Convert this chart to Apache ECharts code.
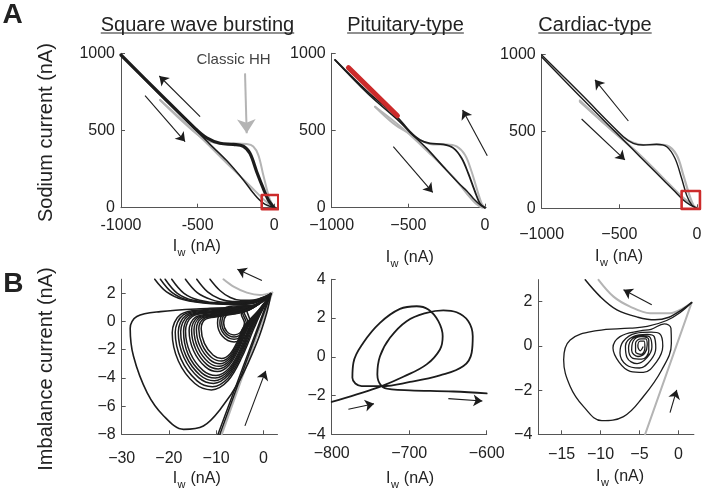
<!DOCTYPE html>
<html><head><meta charset="utf-8">
<script src="https://cdn.jsdelivr.net/npm/echarts@6/dist/echarts.min.js"></script>
<style>html,body{margin:0;padding:0;background:#fff}#c{width:705px;height:491px}</style>
</head><body><div id="c"></div><script>
// ---------- tick labels ----------
const aXTicks = [-1000, -500, 0];
const aYTicks = [0, 500, 1000];
const b1XTicks = [-30, -20, -10, 0];
const b1YTicks = [-8, -6, -4, -2, 0, 2];
const b2XTicks = [-800, -700, -600];
const b2YTicks = [-4, -2, 0, 2, 4];
const b3XTicks = [-15, -10, -5, 0];
const b3YTicks = [-4, -2, 0, 2];
const columnTitles = ['Square wave bursting', 'Pituitary-type', 'Cardiac-type'];

// ---------- A1 : square wave bursting ----------
const a1Upper = [[-1000,989],[-760,752],[-517,514],[-441,452],[-354,417],[-267,410],[-202,398],[-159,352],[-115,233],[-72,125],[-39,50],[-7,6],[0,0]];
const a1Lower = [[-1000,989],[-760,745],[-517,508],[-419,410],[-311,305],[-202,180],[-137,95],[-72,30],[0,0]];
const a1GrayUpper = [[-745,698],[-600,560],[-506,478],[-450,440],[-400,423],[-332,412],[-246,415],[-180,412],[-137,397],[-104,341],[-72,212],[-50,125],[-28,50],[0,0]];
const a1GrayLower = [[-745,698],[-506,480],[-311,290],[-159,142],[-60,45],[0,0]];
const a1Box = [[-82,-9],[26,-9],[26,82],[-82,82],[-82,-9]];
const a1Arrows = [[[-484,590],[-750,853]], [[-843,726],[-582,428]]];
const a1HHArrow = [[[-191,870],[-180,482]]];

// ---------- A2 : pituitary-type ----------
const a2Upper = [[-978,957],[-760,745],[-576,590],[-489,492],[-424,438],[-359,417],[-272,410],[-206,386],[-152,320],[-109,222],[-65,104],[-33,28],[0,0]];
const a2Lower = [[-978,957],[-760,735],[-576,575],[-489,488],[-380,384],[-272,266],[-163,150],[-120,110],[-76,60],[-33,20],[0,0]];
const a2GrayUpper = [[-717,654],[-600,548],[-489,478],[-402,428],[-337,410],[-250,410],[-185,397],[-130,341],[-87,233],[-54,125],[-22,28],[0,0]];
const a2GrayLower = [[-717,654],[-532,510],[-359,350],[-206,198],[-120,93],[-54,22],[-11,0],[0,0]];
const a2Red = [[-891,907],[-571,596]];
const a2Arrows = [[[-598,395],[-341,99]], [[15,337],[-146,633]]];

// ---------- A3 : cardiac-type ----------
const a3Upper = [[-1000,996],[-740,735],[-474,465],[-410,422],[-346,411],[-260,416],[-195,400],[-142,325],[-99,195],[-67,87],[-34,22],[0,0]];
const a3Lower = [[-1000,983],[-740,713],[-474,444],[-367,335],[-260,227],[-152,119],[-88,54],[-45,22],[0,0]];
const a3GrayUpper = [[-754,700],[-600,555],[-474,460],[-410,425],[-346,411],[-260,413],[-195,407],[-131,346],[-88,216],[-56,108],[-24,22],[0,0]];
const a3GrayLower = [[-754,693],[-539,498],[-367,346],[-217,195],[-110,87],[-45,32],[0,0]];
const a3Box = [[-99,-4],[19,-4],[19,112],[-99,112],[-99,-4]];
const a3Arrows = [[[-442,567],[-657,834]], [[-743,580],[-464,314]]];

// ---------- B1 ----------
const b1Outer = [[1.6,1.95],[-2,1.1],[-11.3,0.94],[-21.8,0.7],[-26.8,0.35],[-28.2,-0.47],[-27.5,-2.47],[-24.6,-5.06],[-21.1,-6.7],[-16.9,-7.65],[-12.7,-7.41],[-9.15,-6.24],[-4.93,-4.12],[-1.41,-1.53],[0.7,0.59],[1.6,1.95]];
const b1Loop1 = [[1.6,1.95],[-3,1.05],[-12,0.85],[-17.5,0.5],[-19.3,-0.8],[-18,-2.8],[-14.5,-4.4],[-11,-4.85],[-7.5,-4.2],[-4.5,-2.5],[-2,-0.5],[0,1.0],[1.6,1.95]];
const b1Loop2 = [[1.6,1.95],[-3,1.0],[-11.73,0.8],[-16.95,0.47],[-18.66,-0.77],[-17.43,-2.67],[-14.1,-4.19],[-10.78,-4.62],[-7.45,-4.0],[-4.6,-2.39],[-2.23,-0.49],[0,0.95],[1.6,1.95]];
const b1Loop2b = [[1.6,1.95],[-3,0.98],[-11.45,0.745],[-16.4,0.43],[-18.02,-0.74],[-16.85,-2.54],[-13.7,-3.98],[-10.55,-4.39],[-7.4,-3.8],[-4.7,-2.27],[-2.45,-0.47],[-0.1,0.93],[1.6,1.95]];
const b1Loop2c = [[1.6,1.95],[-3,0.96],[-11.23,0.7],[-15.96,0.4],[-17.51,-0.72],[-16.39,-2.44],[-13.38,-3.81],[-10.37,-4.2],[-7.36,-3.64],[-4.78,-2.18],[-2.63,-0.46],[-0.2,0.91],[1.6,1.95]];
const b1Loop3 = [[1.6,1.95],[-3,0.95],[-11.01,0.66],[-15.52,0.37],[-16.9,-0.69],[-15.93,-2.33],[-13.06,-3.64],[-10.19,-4.01],[-7.32,-3.48],[-4.86,-2.09],[-2.81,-0.45],[-0.3,0.9],[1.6,1.95]];
const b1Loop4 = [[1.6,1.95],[-3,0.92],[-10.79,0.62],[-15.08,0.35],[-16.48,-0.67],[-15.47,-2.23],[-12.74,-3.48],[-10.01,-3.83],[-7.28,-3.32],[-4.94,-1.99],[-2.99,-0.43],[-0.4,0.88],[1.6,1.95]];
const b1Loop4b = [[1.6,1.95],[-3,0.9],[-10.46,0.56],[-14.42,0.3],[-15.72,-0.63],[-14.78,-2.07],[-12.26,-3.22],[-9.74,-3.55],[-7.22,-3.08],[-5.06,-1.86],[-3.26,-0.42],[-0.5,0.86],[1.6,1.95]];
const b1Loop5 = [[1.6,1.95],[-3,0.88],[-10.24,0.51],[-13.98,0.28],[-15.2,-0.61],[-14.32,-1.97],[-11.94,-3.06],[-9.56,-3.36],[-7.18,-2.92],[-5.14,-1.76],[-3.44,-0.4],[-0.6,0.85],[1.6,1.95]];
const b1Loop5b = [[1.6,1.95],[-3,0.86],[-10.02,0.47],[-13.54,0.25],[-14.69,-0.58],[-13.86,-1.86],[-11.62,-2.89],[-9.38,-3.18],[-7.14,-2.76],[-5.22,-1.67],[-3.62,-0.39],[-0.7,0.83],[1.6,1.95]];
const b1Loop6 = [[1.6,1.95],[-3,0.85],[-9.8,0.43],[-13.1,0.22],[-14.18,-0.56],[-13.4,-1.76],[-11.3,-2.72],[-9.2,-2.99],[-7.1,-2.6],[-5.3,-1.58],[-3.8,-0.38],[-0.8,0.82],[1.6,1.95]];
const b1Loop6b = [[1.6,1.95],[-3,0.83],[-9.58,0.39],[-12.66,0.19],[-13.67,-0.54],[-12.94,-1.66],[-10.98,-2.55],[-8.86,-2.8],[-7.06,-2.44],[-5.38,-1.49],[-3.98,-0.37],[-0.9,0.81],[1.6,1.95]];
const b1Loop7 = [[1.6,1.95],[-3,0.82],[-9.36,0.35],[-12.22,0.16],[-13.16,-0.51],[-12.48,-1.55],[-10.66,-2.38],[-8.84,-2.62],[-7.02,-2.28],[-5.46,-1.4],[-4.16,-0.36],[-1,0.8],[1.6,1.95]];
const b1Ring1 = [[1.6,1.95],[-2,1.1],[-6.2,0.75],[-7.74,0.5],[-8.4,-0.1],[-7.74,-0.7],[-6.2,-0.95],[-4.66,-0.7],[-4.0,-0.1],[-4.66,0.5],[-2.5,0.95],[1.6,1.95]];
const b1Ring2 = [[1.6,1.95],[-2,1.12],[-6.2,0.9],[-8.02,0.6],[-8.8,-0.1],[-8.02,-0.8],[-6.2,-1.1],[-4.38,-0.8],[-3.6,-0.1],[-4.38,0.6],[-2.3,1.0],[1.6,1.95]];
const b1Ring3 = [[1.6,1.95],[-2,1.15],[-6.2,1.02],[-8.3,0.7],[-9.2,-0.1],[-8.3,-0.9],[-6.2,-1.25],[-4.1,-0.9],[-3.2,-0.1],[-4.1,0.7],[-2.1,1.05],[1.6,1.95]];
const b1Ring4 = [[1.6,1.95],[-2,1.15],[-6.2,1.1],[-8.65,0.85],[-9.7,-0.1],[-8.65,-1.05],[-6.2,-1.45],[-3.75,-1.05],[-2.7,-0.1],[-3.5,0.8],[-1.8,1.1],[1.6,1.95]];
const b1In1 = [[-23,3],[-20.5,2.1],[-17,1.55],[-11,1.25],[-5,1.2],[-1.5,1.35],[1.6,1.95]];
const b1In2 = [[-21.8,3],[-19.3,2.05],[-15.8,1.5],[-10,1.28],[-5,1.25],[-1.5,1.38],[1.6,1.95]];
const b1In3 = [[-20.8,3],[-18.2,2.0],[-14.8,1.5],[-9.5,1.3],[-5,1.3],[-1.5,1.42],[1.6,1.95]];
const b1In4 = [[-19.4,3],[-16.8,2.0],[-13.5,1.5],[-9,1.32],[-5,1.32],[-1.5,1.45],[1.6,1.95]];
const b1In5 = [[-16.5,3],[-14,2.05],[-11,1.55],[-8,1.35],[-5,1.35],[-1.5,1.48],[1.6,1.95]];
const b1In6 = [[-14.1,3],[-11.8,2.1],[-9.2,1.6],[-6.5,1.42],[-4,1.42],[-1.5,1.52],[1.6,1.95]];
const b1In7 = [[-11.3,3],[-9.2,2.2],[-7,1.7],[-4.8,1.5],[-3,1.5],[-1,1.6],[1.6,1.95]];
const b1Straight1 = [[-9.6,-8],[1.5,2.0]];
const b1Straight2 = [[-9.2,-8],[1.6,1.95]];
const b1GrayLine = [[-8.8,-8],[1.9,2.05]];
const b1GrayArc = [[-8.45,2.99],[-6.3,2.47],[-3.5,2.05],[-0.7,1.88],[1.9,2.05]];
const b1Arrows = [[[-0.3,2.9],[-5.5,3.7]], [[-3.9,-7.4],[0.5,-3.5]]];

// ---------- B2 ----------
const b2Path = [[-800,-2.33],[-767.7,-1.94],[-735.5,-1.51],
  [-707.6,-1.03],[-677.5,-0.39],[-660.3,0.38],[-656.8,1.06],[-662.4,1.84],[-675.3,2.44],[-690.4,2.61],[-711.9,2.47],[-737.7,1.75],[-759.2,0.72],[-772,-0.31],[-773.3,-1.08],[-761.3,-1.51],[-735.5,-1.51],
  [-699,-1.3],[-660.3,-0.96],[-630,-0.48],[-619.4,0.21],[-618,1.06],[-623.7,1.84],[-638.8,2.3],[-656,2.4],[-677.5,2.27],[-703.3,1.84],[-724.8,0.98],[-737.7,0.03],[-741.1,-0.91],[-735.5,-1.51],
  [-722.6,-1.68],[-699,-1.73],[-643,-1.79],[-600,-1.89]];
const b2Arrows = [[[-778.5,-2.71],[-745.4,-2.42]], [[-649.5,-2.16],[-605.6,-2.28]]];

// ---------- B3 ----------
const b3GrayLine = [[-4.27,-4],[1.71,1.96]];
const b3GrayArc = [[-10.26,2.99],[-8.33,2.23],[-6.2,1.78],[-3.63,1.48],[-1.07,1.48],[0.64,1.71],[1.71,1.96]];
const b3BlackArc = [[-11.97,2.99],[-10.04,2.23],[-7.9,1.63],[-5.2,1.3],[-3,1.18],[-1.2,1.3],[0.3,1.6],[1.71,1.96]];
const b3Main = [[1.71,1.96],[0.2,1.5],[-1.5,1.15],[-4,0.88],[-6.2,0.8],[-10.47,0.69],[-13.9,0.27],[-14.74,-0.63],[-13.9,-1.84],[-12.18,-2.75],[-9.83,-3.38],[-7.05,-3.2],[-4.49,-2.29],[-2.14,-1.09],[-0.9,0.1],[-0.95,0.8],[-1.8,1.0],
  [-3.5,0.75],[-4.9,0.68],[-7.5,0.42],[-8.4,-0.1],[-7.6,-0.75],[-6.2,-1.15],[-4.5,-1.2],[-2.8,-0.72],[-2.0,0.0],[-2.4,0.55],
  [-3.5,0.62],[-5.5,0.57],[-7.1,0.2],[-7.5,-0.32],[-6.7,-0.85],[-5.0,-1.0],[-3.5,-0.62],[-2.9,-0.1],[-3.1,0.42],
  [-4,0.52],[-5.8,0.42],[-6.8,0],[-6.6,-0.52],[-5.3,-0.8],[-4.0,-0.52],[-3.4,-0.05],[-3.6,0.37],
  [-4.5,0.47],[-5.9,0.32],[-6.4,-0.1],[-5.9,-0.55],[-4.7,-0.6],[-3.8,-0.22],[-3.8,0.27],
  [-4.8,0.42],[-5.8,0.22],[-6.0,-0.2],[-5.2,-0.48],[-4.3,-0.32],[-4.0,0.05],[-4.2,0.32],
  [-4.8,0.32],[-5.5,0.12],[-5.5,-0.26],[-4.8,-0.38],[-4.3,-0.1],[-4.4,0.22],
  [-4.9,0.22],[-5.2,0],[-4.9,-0.22],[-4.55,-0.05]];
const b3Arrows = [[[-3.42,1.86],[-7.05,2.54]], [[-1.07,-3.02],[-0.21,-1.99]]];

// ---------- styling ----------
const FONT = '"Liberation Sans", Arial, Helvetica, sans-serif';
const BLACK = '#1c1c1c', GRAY = '#b4b4b4', RED = '#cc2b2b', AXIS = '#555';
const hy = v => String(v);
const mn = v => (v < 0 ? '\u2212' + Math.abs(v) : String(v));

const grids = [
  {left:121, top:53.3, width:155.6, height:154.4},
  {left:331.7, top:53.3, width:154.5, height:154.4},
  {left:541.7, top:54.3, width:158.4, height:154},
  {left:121.7, top:279.2, width:155.8, height:155.1},
  {left:331.7, top:279.3, width:155, height:155},
  {left:538.3, top:279.6, width:155.6, height:154.7}
].map(g => Object.assign({outerBoundsMode:'none', containLabel:false}, g));

function xAx(i, min, max, ticks, fmt, margin) {
  return {type:'value', gridIndex:i, min, max,
    axisLine:{show:true, onZero:false, lineStyle:{color:AXIS, width:1}},
    axisTick:{show:true, inside:true, length:4, customValues:ticks, lineStyle:{color:AXIS, width:1}},
    axisLabel:{customValues:ticks, formatter:fmt, margin, color:'#222', fontSize:16, fontFamily:FONT},
    splitLine:{show:false}};
}
function yAx(i, min, max, ticks, fmt) {
  return {type:'value', gridIndex:i, min, max,
    axisLine:{show:true, onZero:false, lineStyle:{color:AXIS, width:1}},
    axisTick:{show:true, inside:true, length:4, customValues:ticks, lineStyle:{color:AXIS, width:1}},
    axisLabel:{customValues:ticks, formatter:fmt, margin:6, color:'#222', fontSize:16, fontFamily:FONT},
    splitLine:{show:false}};
}
const xAxes = [
  xAx(0, -1000, 15, aXTicks, hy, 10),
  xAx(1, -1000, 8, aXTicks, mn, 10),
  xAx(2, -1000, 20, aXTicks, mn, 18),
  xAx(3, -30, 3, b1XTicks, mn, 16),
  xAx(4, -800, -600, b2XTicks, mn, 11),
  xAx(5, -18, 2, b3XTicks, mn, 12)
];
const yAxes = [
  yAx(0, 0, 1000, aYTicks, hy),
  yAx(1, 0, 1000, aYTicks, hy),
  yAx(2, 0, 1000, aYTicks, hy),
  yAx(3, -8, 3, b1YTicks, mn),
  yAx(4, -4, 4, b2YTicks, mn),
  yAx(5, -4, 3, b3YTicks, mn)
];

function ln(g, data, color, width, smooth) {
  return {type:'line', xAxisIndex:g, yAxisIndex:g, data, showSymbol:false, symbol:'none',
    smooth: smooth === undefined ? 0.35 : smooth, lineStyle:{color, width, cap:'round', join:'round'},
    clip:false, silent:true, animation:false, z:2};
}
function arrows(g, list, color, width, size) {
  return {type:'lines', coordinateSystem:'cartesian2d', xAxisIndex:g, yAxisIndex:g,
    data:list.map(c => ({coords:c})), symbol:['none','arrow'], symbolSize:size,
    lineStyle:{color, width, opacity:1, curveness:0}, clip:false, silent:true, animation:false, z:3};
}

const b1Loops = [b1Loop1,b1Loop2,b1Loop2b,b1Loop2c,b1Loop3,b1Loop4,b1Loop4b,b1Loop5,b1Loop5b,b1Loop6,b1Loop6b,b1Loop7];
const b1Rings = [b1Ring1,b1Ring2,b1Ring3,b1Ring4];
const b1Incoming = [b1In1,b1In2,b1In3,b1In4,b1In5,b1In6,b1In7];

const series = [
  // A1
  ln(0, a1GrayUpper, GRAY, 2), ln(0, a1GrayLower, GRAY, 2),
  ln(0, a1Lower, BLACK, 1.5), ln(0, a1Upper, BLACK, 3.2),
  ln(0, a1Box, RED, 2.6, false),
  arrows(0, a1Arrows, BLACK, 1.1, 9), arrows(0, a1HHArrow, GRAY, 2, 14),
  // A2
  ln(1, a2GrayUpper, GRAY, 2), ln(1, a2GrayLower, GRAY, 2),
  ln(1, a2Lower, BLACK, 1.6), ln(1, a2Upper, BLACK, 1.8),
  ln(1, a2Red, RED, 5, false),
  arrows(1, a2Arrows, BLACK, 1.1, 9),
  // A3
  ln(2, a3GrayUpper, GRAY, 2.2), ln(2, a3GrayLower, GRAY, 2.2),
  ln(2, a3Lower, BLACK, 1.4), ln(2, a3Upper, BLACK, 1.4),
  ln(2, a3Box, RED, 2.6, false),
  arrows(2, a3Arrows, BLACK, 1.1, 9),
  // B1
  ln(3, b1GrayArc, GRAY, 2), ln(3, b1GrayLine, GRAY, 2, false),
  ln(3, b1Straight1, BLACK, 1.5, false), ln(3, b1Straight2, BLACK, 1.5, false),
  ln(3, b1Outer, BLACK, 1.6),
  ...b1Loops.map(d => ln(3, d, BLACK, 1.5)),
  ...b1Rings.map(d => ln(3, d, BLACK, 1.5)),
  ...b1Incoming.map(d => ln(3, d, BLACK, 1.5)),
  arrows(3, b1Arrows, BLACK, 1.1, 9),
  // B2
  ln(4, b2Path, BLACK, 1.8, 0.4),
  arrows(4, b2Arrows, BLACK, 1.1, 9),
  // B3
  ln(5, b3GrayArc, GRAY, 2), ln(5, b3GrayLine, GRAY, 2, false),
  ln(5, b3BlackArc, BLACK, 1.5), ln(5, b3Main, BLACK, 1.3, 0.4),
  arrows(5, b3Arrows, BLACK, 1.1, 9)
];

// ---------- text ----------
const mctx = document.createElement('canvas').getContext('2d');
function tw(t, size) { mctx.font = size + 'px ' + FONT; return mctx.measureText(t).width; }
const graphic = [];
function txt(t, x, y, size, opts) {
  graphic.push(Object.assign({type:'text', x, y, silent:true,
    style:Object.assign({text:t, font:size + 'px ' + FONT, fill:'#222', textAlign:'center', textVerticalAlign:'middle'}, (opts && opts.style) || {})},
    (opts && opts.el) || {}));
}
txt('A', 12.5, 15, 28, {style:{font:'bold 28px ' + FONT}});
txt('B', 13.3, 284, 28, {style:{font:'bold 28px ' + FONT}});
const titleX = [197.5, 405.5, 595];
columnTitles.forEach((t, i) => {
  txt(t, titleX[i], 25.5, 20);
  const w = tw(t, 20);
  graphic.push({type:'line', silent:true, shape:{x1:titleX[i] - w/2, y1:33, x2:titleX[i] + w/2, y2:33}, style:{stroke:'#222', lineWidth:1.1}});
});
txt('Sodium current (nA)', 46.5, 132.5, 20, {el:{rotation:Math.PI/2}});
txt('Imbalance current (nA)', 46.5, 369, 20, {el:{rotation:Math.PI/2}});
txt('Classic HH', 233.5, 60, 15, {style:{fill:'#444'}});
function iwLabel(cx, cy) {
  const wI = tw('I', 16), wW = tw('w', 11), wR = tw(' (nA)', 16);
  const x0 = cx - (wI + wW + wR + 1) / 2;
  txt('I', x0, cy, 16, {style:{textAlign:'left'}});
  txt('w', x0 + wI + 0.5, cy + 6, 11, {style:{textAlign:'left'}});
  txt(' (nA)', x0 + wI + wW + 1, cy, 16, {style:{textAlign:'left'}});
}
iwLabel(196.7, 247); iwLabel(409.7, 257.5); iwLabel(619, 257);
iwLabel(196.7, 479); iwLabel(410, 479); iwLabel(620, 477);

const chart = echarts.init(document.getElementById('c'), null, {renderer:'canvas'});
chart.setOption({animation:false, backgroundColor:'#fff', grid:grids, xAxis:xAxes, yAxis:yAxes, series, graphic});
</script></body></html>
